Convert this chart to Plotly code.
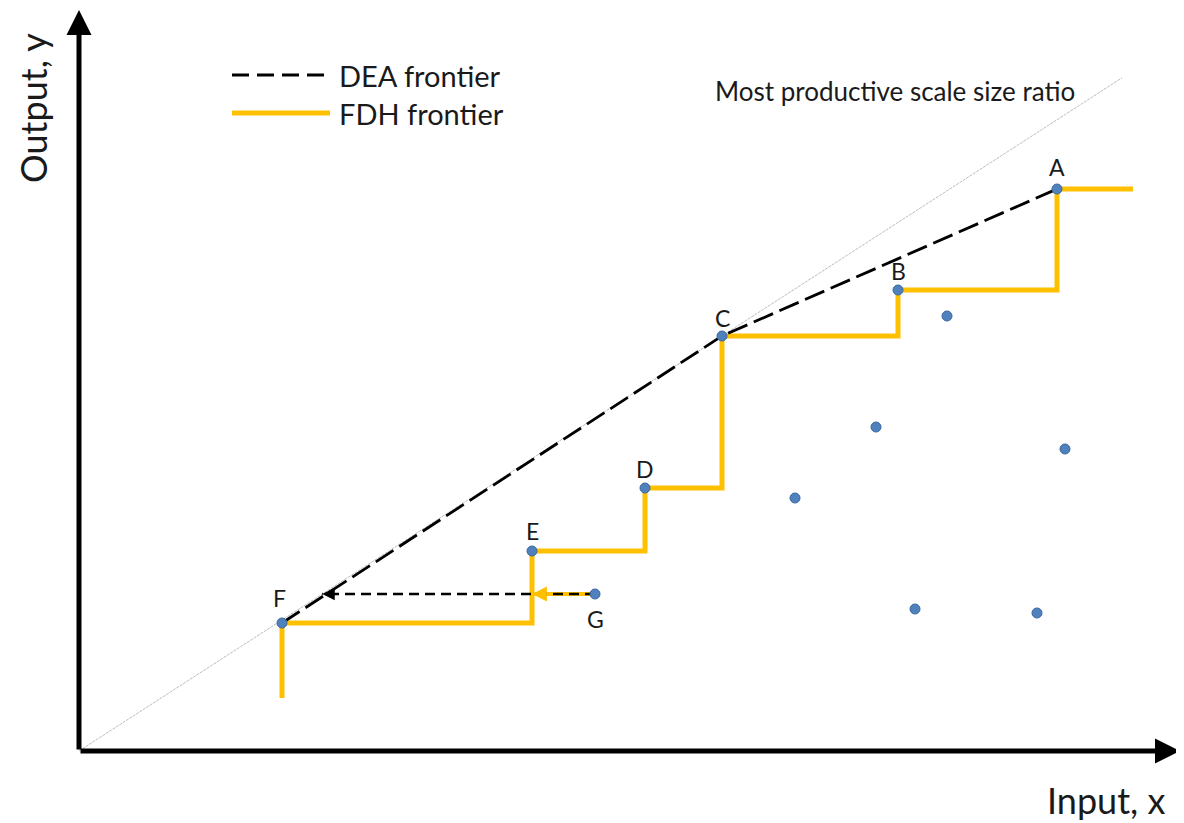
import plotly.graph_objects as go

# ---- data (units: input x, output y) ----
unit_labels = ["A", "B", "C", "D", "E", "F", "G"]
unit_x = [9.78, 8.19, 6.43, 5.66, 4.53, 2.03, 5.16]
unit_y = [5.62, 4.61, 4.15, 2.63, 2.00, 1.28, 1.57]
other_x = [8.68, 7.97, 7.16, 9.86, 8.36, 9.58]
other_y = [4.35, 3.24, 2.53, 3.02, 1.42, 1.38]

fdh_order = ["F", "E", "D", "C", "B", "A"]
dea_order = ["F", "C", "A"]
fdh_floor = 0.53
fdh_x_end = 10.54
ray_x_end = 10.43
axis_x_end = 11.01
axis_y_end = 7.41

pos = {l: (x, y) for l, x, y in zip(unit_labels, unit_x, unit_y)}

YELLOW = "#FFC000"
BLUE = "#4F81BD"
FONT = "Lato"
TXT = "#1a1a1a"

fig = go.Figure()

# most productive scale size ray (through C)
slope = pos["C"][1] / pos["C"][0]
fig.add_trace(go.Scatter(x=[0, ray_x_end], y=[0, slope * ray_x_end], mode="lines",
                         line=dict(color="#BDBDBD", width=1, dash="3px,1px"), hoverinfo="skip"))

# FDH staircase
fx, fy = [pos["F"][0]], [fdh_floor]
prev_y = fdh_floor
for lab in fdh_order:
    x, y = pos[lab]
    fx += [x, x]
    fy += [prev_y, y]
    prev_y = y
fx.append(fdh_x_end)
fy.append(prev_y)
fig.add_trace(go.Scatter(x=fx, y=fy, mode="lines", line=dict(color=YELLOW, width=5),
                         hoverinfo="skip"))

# G projection onto FDH (yellow line + arrowhead)
gx, gy = pos["G"]
fig.add_trace(go.Scatter(x=[gx, pos["E"][0]], y=[gy, gy], mode="lines",
                         line=dict(color=YELLOW, width=4), hoverinfo="skip"))
fig.add_annotation(x=pos["E"][0], y=gy, ax=pos["E"][0] + 0.14, ay=gy, xref="x", yref="y",
                   axref="x", ayref="y", showarrow=True, arrowhead=2, arrowsize=0.85,
                   arrowwidth=3.5, arrowcolor=YELLOW, text="", standoff=0)

# DEA frontier
fig.add_trace(go.Scatter(x=[pos[l][0] for l in dea_order], y=[pos[l][1] for l in dea_order],
                         mode="lines", line=dict(color="black", width=2.8, dash="21px,7px"),
                         hoverinfo="skip"))

# G projection onto DEA (black dashed line + arrowhead)
proj_x = gy / slope
fig.add_trace(go.Scatter(x=[gx, proj_x], y=[gy, gy], mode="lines",
                         line=dict(color="black", width=2.5, dash="10px,6px"), hoverinfo="skip"))
fig.add_annotation(x=proj_x, y=gy, ax=proj_x + 0.11, ay=gy, xref="x", yref="y",
                   axref="x", ayref="y", showarrow=True, arrowhead=2, arrowsize=1,
                   arrowwidth=2.5, arrowcolor="black", text="", standoff=0)

# DMU points
fig.add_trace(go.Scatter(x=unit_x + other_x, y=unit_y + other_y, mode="markers",
                         marker=dict(color=BLUE, size=10, line=dict(color="#3A67A0", width=1)),
                         hoverinfo="skip"))

# point labels (pixel offsets from each point)
label_shift = {"A": (0, 22), "B": (0, 19), "C": (0, 18), "D": (0, 19), "E": (0, 20),
               "F": (-3, 25), "G": (0, -25)}
for lab in unit_labels:
    dx, dy = label_shift[lab]
    x, y = pos[lab]
    fig.add_annotation(x=x, y=y, text=lab, showarrow=False, xshift=dx, yshift=dy,
                       font=dict(family=FONT, size=23, color=TXT))

# axes with arrowheads
fig.add_annotation(x=0, y=axis_y_end, ax=0, ay=0, xref="x", yref="y", axref="x", ayref="y",
                   showarrow=True, arrowhead=2, arrowsize=1, arrowwidth=5, arrowcolor="black", text="")
fig.add_annotation(x=axis_x_end, y=0, ax=0, ay=0, xref="x", yref="y", axref="x", ayref="y",
                   showarrow=True, arrowhead=2, arrowsize=1, arrowwidth=5, arrowcolor="black", text="")

# axis titles
fig.add_annotation(x=-0.46, y=6.43, text="Output, y", textangle=-90, showarrow=False,
                   xref="x", yref="y", font=dict(family=FONT, size=36, color=TXT))
fig.add_annotation(x=10.27, y=-0.49, text="Input, x", showarrow=False,
                   xref="x", yref="y", font=dict(family=FONT, size=36, color=TXT))

# ray label
fig.add_annotation(x=6.34, y=6.60, text="Most productive scale size ratio", showarrow=False,
                   xanchor="left", xref="x", yref="y", font=dict(family=FONT, size=26, color=TXT))

# legend (drawn manually)
fig.add_shape(type="line", x0=1.53, x1=2.51, y0=6.76, y1=6.76, xref="x", yref="y",
              line=dict(color="black", width=2.8, dash="17px,8px"))
fig.add_shape(type="line", x0=1.53, x1=2.51, y0=6.38, y1=6.38, xref="x", yref="y",
              line=dict(color=YELLOW, width=5))
fig.add_annotation(x=2.58, y=6.76, text="DEA frontier", showarrow=False, xanchor="left",
                   xref="x", yref="y", font=dict(family=FONT, size=29, color=TXT))
fig.add_annotation(x=2.58, y=6.38, text="FDH frontier", showarrow=False, xanchor="left",
                   xref="x", yref="y", font=dict(family=FONT, size=29, color=TXT))

# figure sized to the window minus the page's 8px body margin
fig.update_layout(
    width=1176, height=815, margin=dict(l=0, r=0, t=0, b=0),
    plot_bgcolor="white", paper_bgcolor="white", showlegend=False,
    xaxis=dict(range=[-0.71, 11.05], visible=False, fixedrange=True),
    yaxis=dict(range=[-0.72, 7.43], visible=False, fixedrange=True),
)

fig.write_html("out.html")
